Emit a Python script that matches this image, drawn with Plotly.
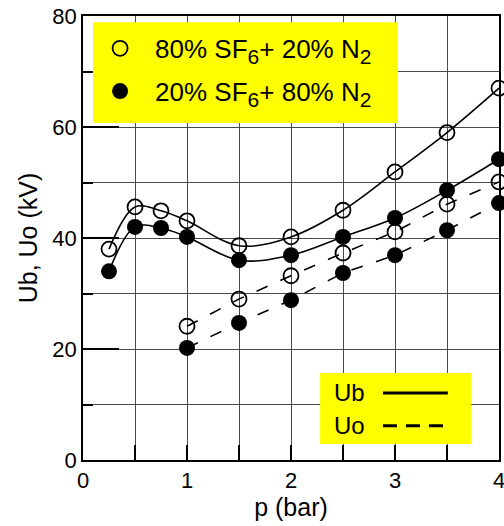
import plotly.graph_objects as go

# ---- data ----
p_ub = [0.25, 0.5, 0.75, 1.0, 1.5, 2.0, 2.5, 3.0, 3.5, 4.0]
ub_80sf6 = [38.0, 45.6, 44.9, 43.1, 38.6, 40.2, 45.0, 51.9, 59.0, 67.0]
ub_20sf6 = [34.0, 42.0, 41.8, 40.2, 36.0, 36.9, 40.2, 43.6, 48.6, 54.2]

p_uo = [1.0, 1.5, 2.0, 2.5, 3.0, 3.5, 4.0]
uo_80sf6 = [24.1, 29.0, 33.2, 37.3, 41.1, 46.1, 50.1]
uo_20sf6 = [20.2, 24.7, 28.8, 33.7, 36.9, 41.4, 46.3]

SUB = "<sub><span style='font-size:21px'>{}</span></sub>"
name_80 = "80% SF" + SUB.format("6") + "+ 20% N" + SUB.format("2")
name_20 = "20% SF" + SUB.format("6") + "+ 80% N" + SUB.format("2")

x_ticks = [0, 1, 2, 3, 4]
y_ticks = [0, 20, 40, 60, 80]

FONT = "Liberation Sans, Arial, sans-serif"
GRID = "#4a4a4a"

fig = go.Figure()

# Ub solid smooth curves
for y in (ub_80sf6, ub_20sf6):
    fig.add_trace(go.Scatter(x=p_ub, y=y, mode="lines",
                             line=dict(color="black", width=1.6, shape="spline", smoothing=1.0),
                             showlegend=False, hoverinfo="skip"))
# Uo dashed lines
for y in (uo_80sf6, uo_20sf6):
    fig.add_trace(go.Scatter(x=p_uo, y=y, mode="lines",
                             line=dict(color="black", width=1.6, dash="12px,14px"),
                             showlegend=False, hoverinfo="skip"))

open_marker = dict(symbol="circle-open", size=15, color="black", line=dict(width=1.8, color="black"))
filled_marker = dict(symbol="circle", size=16, color="black")

fig.add_trace(go.Scatter(x=p_ub + p_uo, y=ub_80sf6 + uo_80sf6, mode="markers",
                         marker=open_marker, name=name_80, legendgroup="a", cliponaxis=False))
fig.add_trace(go.Scatter(x=p_ub + p_uo, y=ub_20sf6 + uo_20sf6, mode="markers",
                         marker=filled_marker, name=name_20, legendgroup="b", cliponaxis=False))

# yellow background of the symbol legend
fig.add_shape(type="rect", xref="paper", yref="paper", x0=0.024, x1=0.757, y0=0.759, y1=0.986,
              fillcolor="yellow", line=dict(width=0), layer="above")

# second legend (text left, line key right), drawn as a decorated box
fig.add_shape(type="rect", xref="paper", yref="paper", x0=0.570, x1=0.933, y0=0.036, y1=0.196,
              fillcolor="yellow", line=dict(width=0), layer="above")
fig.add_shape(type="line", xref="paper", yref="paper", x0=0.721, x1=0.877, y0=0.151, y1=0.151,
              line=dict(color="black", width=3), layer="above")
fig.add_shape(type="line", xref="paper", yref="paper", x0=0.721, x1=0.877, y0=0.077, y1=0.077,
              line=dict(color="black", width=3, dash="14px,9px"), layer="above")
fig.add_annotation(xref="paper", yref="paper", x=0.598, y=0.151, xanchor="left", yanchor="middle",
                   text="Ub", showarrow=False, font=dict(family=FONT, size=24, color="black"))
fig.add_annotation(xref="paper", yref="paper", x=0.598, y=0.077, xanchor="left", yanchor="middle",
                   text="Uo", showarrow=False, font=dict(family=FONT, size=24, color="black"))

axis_common = dict(showline=True, linecolor="black", linewidth=1.5, mirror=True,
                   ticks="inside", tickcolor="black", tickwidth=2, automargin=False,
                   showgrid=True, gridcolor=GRID, gridwidth=1, zeroline=False,
                   ticklabeloverflow="allow",
                   tickfont=dict(family=FONT, size=22, color="black"))

fig.update_xaxes(range=[0, 4], tickvals=x_ticks, ticklen=15,
                 minor=dict(dtick=0.5, ticks="inside", ticklen=15, tickwidth=2, tickcolor="black",
                            showgrid=True, gridcolor=GRID, gridwidth=1),
                 title=dict(text="p (bar)", font=dict(family=FONT, size=25, color="black"), standoff=6),
                 **axis_common)
fig.update_yaxes(range=[0, 80], tickvals=y_ticks, ticklen=36,
                 minor=dict(dtick=10, ticks="inside", ticklen=10, tickwidth=2, tickcolor="black",
                            showgrid=True, gridcolor=GRID, gridwidth=1),
                 title=dict(text="Ub, Uo (kV)", font=dict(family=FONT, size=25, color="black"), standoff=8),
                 **axis_common)

fig.update_layout(
    width=504, height=526,
    margin=dict(l=83, r=5, t=16, b=66),
    paper_bgcolor="white", plot_bgcolor="white",
    font=dict(family=FONT, size=22, color="black"),
    showlegend=True,
    legend=dict(x=0.005, y=0.980, xanchor="left", yanchor="top",
                bgcolor="rgba(0,0,0,0)", borderwidth=0, tracegroupgap=6,
                itemwidth=60, itemsizing="trace",
                font=dict(family=FONT, size=26, color="black")),
)

fig.write_html("out.html", config={"displayModeBar": False},
               post_script="document.body.style.margin='0';document.body.style.overflow='hidden';")
